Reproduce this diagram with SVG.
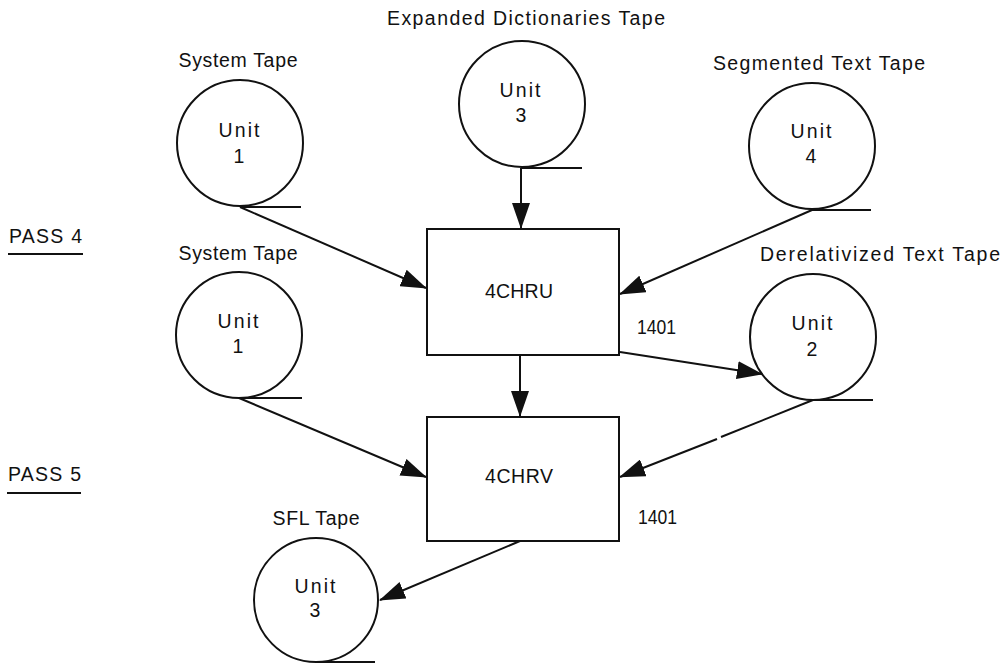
<svg xmlns="http://www.w3.org/2000/svg" width="1004" height="663" viewBox="0 0 1004 663">
<style>
text{font-family:"Liberation Sans",Arial,sans-serif;font-size:19.5px;fill:#111;}
.c{text-anchor:middle;}
.num{font-size:20.5px;}
.tape circle{fill:none;stroke:#111;stroke-width:2;}
.tape line,.under{stroke:#111;stroke-width:2;}
.box rect{fill:#fff;stroke:#111;stroke-width:2;}
#connectors line{stroke:#111;stroke-width:2;}
</style>
<defs>
<marker id="ah" markerUnits="userSpaceOnUse" markerWidth="26" markerHeight="18" refX="25" refY="9" orient="auto">
<path d="M0,0 L26,9 L0,18 z" fill="#111"/>
</marker>
</defs>
<rect width="1004" height="663" fill="#fff"/>

<g id="pass4">
<text x="9" y="243" textLength="73" lengthAdjust="spacing">PASS 4</text>
<line class="under" x1="8" y1="254" x2="83" y2="254"/>
</g>
<g id="pass5">
<text x="8" y="481" textLength="73" lengthAdjust="spacing">PASS 5</text>
<line class="under" x1="7" y1="493" x2="81" y2="493"/>
</g>

<g id="tape-system1" class="tape">
<text class="c" x="238" y="67" textLength="119" lengthAdjust="spacing">System Tape</text>
<circle cx="240" cy="143" r="63"/>
<line x1="240" y1="207" x2="301" y2="207"/>
<text class="c" x="239" y="137" textLength="41" lengthAdjust="spacing">Unit</text>
<text class="c" x="239" y="163">1</text>
</g>

<g id="tape-dict3" class="tape">
<text class="c" x="526" y="25" textLength="278" lengthAdjust="spacing">Expanded Dictionaries Tape</text>
<circle cx="522" cy="104" r="63"/>
<line x1="522" y1="168" x2="582" y2="168"/>
<text class="c" x="520" y="97" textLength="41" lengthAdjust="spacing">Unit</text>
<text class="c" x="521" y="122">3</text>
</g>

<g id="tape-seg4" class="tape">
<text class="c" x="819" y="70" textLength="212" lengthAdjust="spacing">Segmented Text Tape</text>
<circle cx="812" cy="146" r="63"/>
<line x1="812" y1="210" x2="871" y2="210"/>
<text class="c" x="811" y="138" textLength="41" lengthAdjust="spacing">Unit</text>
<text class="c" x="811" y="163">4</text>
</g>

<g id="tape-system1b" class="tape">
<text class="c" x="238" y="260" textLength="119" lengthAdjust="spacing">System Tape</text>
<circle cx="239" cy="335" r="63"/>
<line x1="239" y1="398" x2="302" y2="398"/>
<text class="c" x="238" y="328" textLength="41" lengthAdjust="spacing">Unit</text>
<text class="c" x="238" y="353">1</text>
</g>

<g id="tape-derel2" class="tape">
<text x="760" y="261" textLength="240" lengthAdjust="spacing">Derelativized Text Tape</text>
<circle cx="813" cy="337" r="63"/>
<line x1="813" y1="400" x2="873" y2="400"/>
<text class="c" x="812" y="330" textLength="41" lengthAdjust="spacing">Unit</text>
<text class="c" x="812" y="356">2</text>
</g>

<g id="tape-sfl3" class="tape">
<text class="c" x="316" y="525" textLength="87" lengthAdjust="spacing">SFL Tape</text>
<circle cx="316" cy="600" r="62"/>
<line x1="316" y1="662" x2="375" y2="662"/>
<text class="c" x="315" y="593" textLength="41" lengthAdjust="spacing">Unit</text>
<text class="c" x="315" y="617">3</text>
</g>

<g id="box-4chru" class="box">
<rect x="427" y="229" width="192" height="126"/>
<text class="c" x="519" y="298" textLength="68" lengthAdjust="spacing">4CHRU</text>
<text class="num" x="637" y="334" textLength="39" lengthAdjust="spacingAndGlyphs">1401</text>
</g>

<g id="box-4chrv" class="box">
<rect x="427" y="417" width="192" height="124"/>
<text class="c" x="519" y="483" textLength="68" lengthAdjust="spacing">4CHRV</text>
<text class="num" x="638" y="524" textLength="39" lengthAdjust="spacingAndGlyphs">1401</text>
</g>

<g id="connectors">
<line x1="240" y1="207" x2="426" y2="288" marker-end="url(#ah)"/>
<line x1="521" y1="168" x2="521" y2="228" marker-end="url(#ah)"/>
<line x1="812" y1="210" x2="620" y2="294" marker-end="url(#ah)"/>
<line x1="620" y1="352" x2="762" y2="374" marker-end="url(#ah)"/>
<line x1="520" y1="355" x2="520" y2="416" marker-end="url(#ah)"/>
<line x1="239" y1="398" x2="426" y2="477" marker-end="url(#ah)"/>
<line x1="813" y1="400" x2="721" y2="437"/>
<line x1="717" y1="439" x2="620" y2="477" marker-end="url(#ah)"/>
<line x1="520" y1="541" x2="380" y2="600" marker-end="url(#ah)"/>
</g>
</svg>
